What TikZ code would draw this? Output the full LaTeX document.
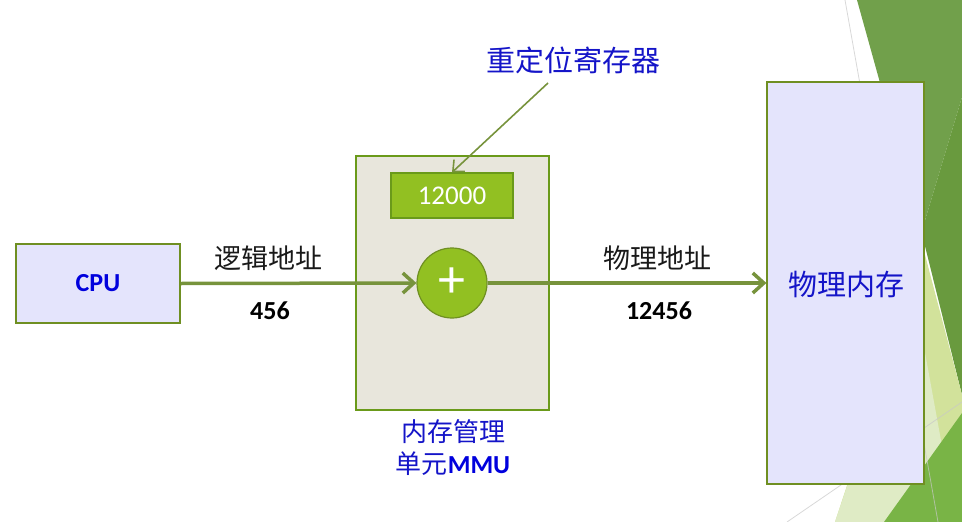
\documentclass[tikz,border=0pt]{standalone}
\usepackage{fontspec}
\setmainfont{Carlito}
\newfontfamily\cjk{Noto Sans CJK SC}
\usetikzlibrary{arrows.meta}
\definecolor{dgA}{HTML}{71A04B}
\definecolor{dgB}{HTML}{699A3E}
\definecolor{lg}{HTML}{D2E29B}
\definecolor{pg}{HTML}{DFEBC5}
\definecolor{mg}{HTML}{79B446}
\definecolor{lav}{HTML}{E4E4FC}
\definecolor{olive}{HTML}{6F8F22}
\definecolor{beige}{HTML}{E8E6DC}
\definecolor{leaf}{HTML}{92C022}
\definecolor{leafedge}{HTML}{6A9A1A}
\definecolor{arr}{HTML}{77933C}
\definecolor{txtblue}{HTML}{1414C8}
\definecolor{cpublue}{HTML}{0000DD}
\definecolor{gline}{HTML}{C8C8C8}
\tikzset{
  lavbox/.style={draw=olive, line width=1.2pt, fill=lav, inner sep=0pt},
  mmubox/.style={draw=leafedge, line width=1.2pt, fill=beige, inner sep=0pt},
  regbox/.style={draw=leafedge, line width=1.2pt, fill=leaf, inner sep=0pt, text=white,
    font=\fontsize{27}{30}\selectfont},
  adder/.style={circle, draw=olive, line width=1.2pt, fill=leaf, inner sep=0pt,
    minimum size=70pt, text=white},
  cjklbl/.style={font=\cjk\fontsize{27}{30}\selectfont, text=black!90, inner sep=0pt},
  bluelbl/.style={font=\cjk\fontsize{29}{32}\selectfont, text=txtblue, inner sep=0pt},
  numlbl/.style={font=\bfseries\fontsize{26}{30}\selectfont, text=black, inner sep=0pt},
  flow/.style={draw=arr, line width=3.5pt, -{Straight Barb[length=11pt,width=20pt,line width=3.5pt]}},
  pointer/.style={draw=arr, line width=1.6pt, -{Straight Barb[length=9pt,width=16pt,line width=1.6pt]}}
}
\begin{document}
\begin{tikzpicture}[x=1pt,y=-1pt]
\useasboundingbox (0,0) rectangle (962,522);
% background facets
\fill[dgA] (857,0) -- (962,0) -- (962,97) -- (921.5,232) -- cycle;
\fill[dgB] (921.5,232) -- (962,97) -- (962,395) -- cycle;
\fill[lg] (924,251) -- (962,395) -- (962,430) -- (884,522) -- (835,522) -- cycle;
\fill[pg] (835,522) -- (910,300) -- (924,347) -- (946,468) -- (884,522) -- cycle;
\fill[mg] (962,413) -- (962,522) -- (884,522) -- cycle;
\draw[gline, line width=0.8pt, opacity=0.7] (845,0) -- (938,522);
\draw[gline, line width=0.8pt, opacity=0.7] (787,522) -- (962,402);
% diagram
\node[lavbox, minimum width=164pt, minimum height=79pt,
  font=\bfseries\fontsize{26}{30}\selectfont, text=cpublue] (cpu) at (98,283.5) {CPU};
\node[mmubox, minimum width=193pt, minimum height=254pt] (mmu) at (452.5,283) {};
\node[regbox, minimum width=122pt, minimum height=45pt] (reg) at (452,195.5) {12000};
\node[adder] (add) at (452,283) {\fontsize{54}{54}\selectfont +};
\node[lavbox, minimum width=157pt, minimum height=402pt] (mem) at (845.5,283) {};
\node[bluelbl] (memlbl) at (846,285) {物理内存};
\node[bluelbl] (reglbl) at (573,60) {重定位寄存器};
\node[cjklbl] (la) at (268,258) {逻辑地址};
\node[numlbl] (na) at (270,311) {456};
\node[cjklbl] (lb) at (657,258) {物理地址};
\node[numlbl] (nb) at (659,311) {12456};
\node[font=\cjk\fontsize{26}{32}\selectfont, text=txtblue, align=center, inner sep=0pt]
  (mmulbl) at (453,448) {内存管理\\单元{\fontspec{Carlito}\bfseries\color{cpublue}MMU}};
\coordinate (regtail) at (548,83);
\draw[flow] (cpu.east) -- (add.west);
\draw[flow] (add.east) -- (mem.west);
\draw[pointer] (regtail) -- (reg.north);
\end{tikzpicture}
\end{document}
